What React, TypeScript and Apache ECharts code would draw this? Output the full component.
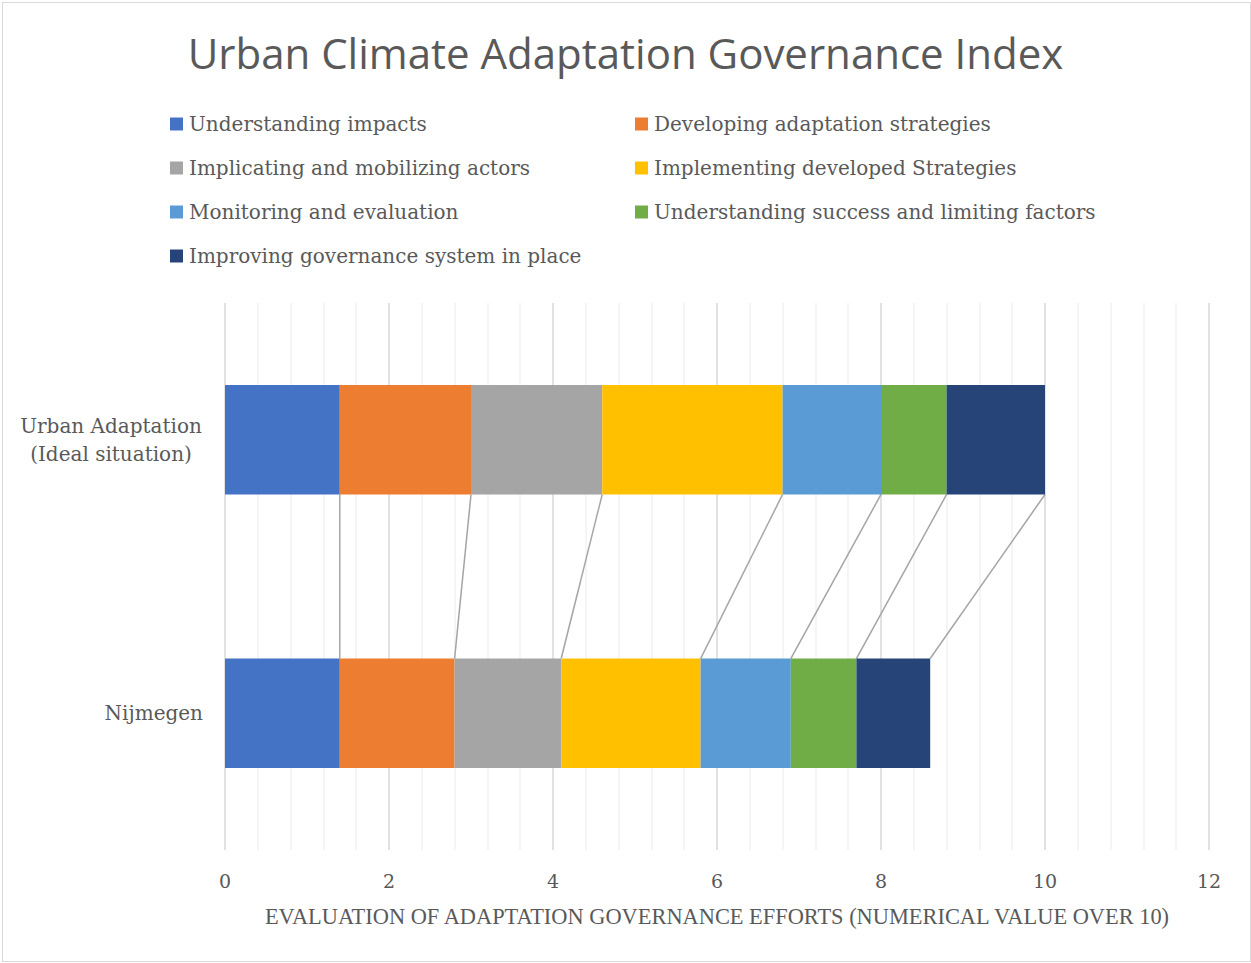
import React, { useEffect, useRef } from "react";
import * as echarts from "echarts";

const categories = ["Nijmegen", "Urban Adaptation\n(Ideal situation)"];
const seriesNames = [
  "Understanding impacts",
  "Developing adaptation strategies",
  "Implicating and mobilizing actors",
  "Implementing developed Strategies",
  "Monitoring and evaluation",
  "Understanding success and limiting factors",
  "Improving governance system in place",
];
// values per series: [Nijmegen, Urban Adaptation (Ideal situation)]
const nijmegenValues = [1.4, 1.4, 1.3, 1.7, 1.1, 0.8, 0.9];
const idealValues = [1.4, 1.6, 1.6, 2.2, 1.2, 0.8, 1.2];
const colors = ["#4472C4", "#ED7D31", "#A5A5A5", "#FFC000", "#5B9BD5", "#70AD47", "#264478"];
const xTicks = { min: 0, max: 12, interval: 2 };
const titleText = "Urban Climate Adaptation Governance Index";
const xAxisName = "EVALUATION OF ADAPTATION GOVERNANCE EFFORTS (NUMERICAL VALUE OVER 10)";

const TEXT = "#595959";
const SERIF = "'DejaVu Serif', serif";

export default function App() {
  const ref = useRef<HTMLDivElement>(null);
  useEffect(() => {
    if (!ref.current) return;
    const chart = echarts.init(ref.current, undefined, { renderer: "svg" });

    // cumulative ends for series lines
    const lineData: number[][] = [];
    let cN = 0;
    let cI = 0;
    for (let i = 0; i < seriesNames.length; i++) {
      cN += nijmegenValues[i];
      cI += idealValues[i];
      lineData.push([+cI.toFixed(4), +cN.toFixed(4), 0]);
    }

    const barSeries = seriesNames.map((name, i) => ({
      name,
      type: "bar",
      stack: "total",
      barWidth: "40%",
      itemStyle: { color: colors[i] },
      data: [nijmegenValues[i], idealValues[i]],
      z: 3,
    }));

    const legendText = { fontFamily: SERIF, fontSize: 20, color: TEXT, lineHeight: 24, padding: [0, 0, 0, 1] };

    const option: any = {
      animation: false,
      backgroundColor: "#ffffff",
      title: {
        text: titleText,
        left: "center",
        top: 26,
        textStyle: {
          fontFamily: "'Open Sans', sans-serif",
          fontWeight: "normal",
          fontSize: 42,
          color: TEXT,
        },
      },
      legend: [
        {
          orient: "vertical",
          left: 165,
          top: 107,
          itemWidth: 13,
          itemHeight: 13,
          itemGap: 20,
          icon: "rect",
          selectedMode: false,
          data: [seriesNames[0], seriesNames[2], seriesNames[4], seriesNames[6]],
          textStyle: legendText,
        },
        {
          orient: "vertical",
          left: 630,
          top: 107,
          itemWidth: 13,
          itemHeight: 13,
          itemGap: 20,
          icon: "rect",
          selectedMode: false,
          data: [seriesNames[1], seriesNames[3], seriesNames[5]],
          textStyle: legendText,
        },
      ],
      grid: { left: 225, right: 42, top: 303, bottom: 113, containLabel: false },
      xAxis: {
        type: "value",
        min: xTicks.min,
        max: xTicks.max,
        interval: xTicks.interval,
        name: xAxisName,
        nameLocation: "middle",
        nameGap: 55,
        nameTextStyle: { fontFamily: "'Liberation Serif', serif", fontSize: 22.4, color: TEXT },
        axisLine: { show: false },
        axisTick: { show: false },
        axisLabel: { fontFamily: SERIF, fontSize: 19, color: TEXT, margin: 21 },
        splitLine: { show: true, lineStyle: { color: "#D9D9D9", width: 1.5 } },
        minorTick: { show: false, splitNumber: 5 },
        minorSplitLine: { show: true, lineStyle: { color: "#F2F2F2", width: 1.5 } },
      },
      yAxis: {
        type: "category",
        data: categories,
        axisLine: { show: false },
        axisTick: { show: false },
        axisLabel: {
          margin: 22,
          fontFamily: SERIF,
          fontSize: 20,
          color: TEXT,
          lineHeight: 28,
          formatter: (v: string) =>
            v.indexOf("\n") >= 0
              ? v
                  .split("\n")
                  .map((l) => `{c|${l}}`)
                  .join("\n")
              : v,
          rich: {
            c: { width: 184, align: "center", fontFamily: SERIF, fontSize: 20, color: TEXT, lineHeight: 28 },
          },
        },
      },
      series: [
        ...barSeries,
        {
          type: "custom",
          name: "seriesLines",
          silent: true,
          z: 2,
          encode: { x: [0, 1], y: 2 },
          data: lineData,
          renderItem: (params: any, api: any) => {
            const top = api.coord([api.value(0), 1]);
            const bot = api.coord([api.value(1), 0]);
            const band = api.size([0, 1])[1];
            const half = band * 0.2;
            return {
              type: "line",
              shape: { x1: top[0], y1: top[1] + half, x2: bot[0], y2: bot[1] - half },
              style: { stroke: "#A5A5A5", lineWidth: 1.5 },
            };
          },
        },
      ],
    };
    chart.setOption(option);
    return () => chart.dispose();
  }, []);

  return (
    <div
      style={{
        position: "fixed",
        left: 0,
        top: 0,
        width: 1251,
        height: 963,
        background: "#fff",
      }}
    >
      <div
        ref={ref}
        style={{ position: "absolute", left: 0, top: 0, width: 1251, height: 963 }}
      />
      <div
        style={{
          position: "absolute",
          left: 2,
          top: 2,
          width: 1247,
          height: 958,
          border: "1px solid #D9D9D9",
          pointerEvents: "none",
        }}
      />
    </div>
  );
}
